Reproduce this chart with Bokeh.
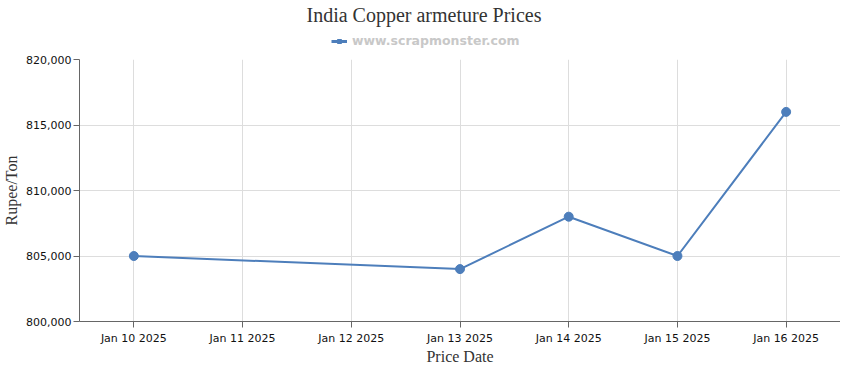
from datetime import datetime
import numpy as np
from bokeh.plotting import figure
from bokeh.layouts import column
from bokeh.models import (ColumnDataSource, FixedTicker, DatetimeTickFormatter,
                          NumeralTickFormatter, Legend, LegendItem, Range1d)
from bokeh.embed import file_html
from bokeh.resources import INLINE

# ---- data ----
dates = ["2025-01-10", "2025-01-13", "2025-01-14", "2025-01-15", "2025-01-16"]
prices = [805000, 804000, 808000, 805000, 816000]
tick_dates = ["2025-01-10", "2025-01-11", "2025-01-12", "2025-01-13",
              "2025-01-14", "2025-01-15", "2025-01-16"]
y_ticks = [800000, 805000, 810000, 815000, 820000]
title_text = "India Copper armeture Prices"
series_name = "www.scrapmonster.com"
x_label = "Price Date"
y_label = "Rupee/Ton"

def ms(s):
    return datetime.strptime(s, "%Y-%m-%d").timestamp() * 1000.0

xs = [datetime.strptime(d, "%Y-%m-%d") for d in dates]
src = ColumnDataSource(dict(x=xs, y=prices))

half_day = 12 * 3600 * 1000.0
x_start = ms(tick_dates[0]) - half_day
x_end = ms(tick_dates[-1]) + half_day

LINE = "#4d7ebb"
TOTAL_W = 840

# ---- header: title + legend ----
head = figure(width=TOTAL_W, height=50, output_backend="svg",
              toolbar_location=None, x_range=Range1d(0, 1), y_range=Range1d(0, 1),
              x_axis_location=None, y_axis_location=None,
              min_border=0)
head.grid.visible = False
head.outline_line_color = None
head.title.text = title_text
head.title.align = "left"
head.title.offset = 227
head.title.standoff = 3
head.title.text_font = "Liberation Serif"
head.title.text_font_size = "20px"
head.title.text_font_style = "normal"
head.title.text_color = "#333333"

leg_line = head.line([np.nan, np.nan], [np.nan, np.nan], line_color=LINE, line_width=3)
leg_sq = head.scatter([np.nan], [np.nan], marker="square", size=7,
                      fill_color=LINE, line_color=LINE)
legend = Legend(items=[LegendItem(label=series_name, renderers=[leg_line, leg_sq])],
                orientation="horizontal", location=(252, 2),
                label_text_font="DejaVu Sans", label_text_font_style="bold",
                label_text_font_size="12.5px", label_text_color="#c8c8c8",
                border_line_color=None, background_fill_alpha=0,
                glyph_width=16, glyph_height=10, label_standoff=5,
                padding=0, margin=0, spacing=0, label_height=12)
head.add_layout(legend)

# ---- main chart ----
p = figure(width=TOTAL_W, frame_height=262, x_axis_type="datetime",
           output_backend="svg", toolbar_location=None,
           x_range=Range1d(x_start, x_end),
           y_range=Range1d(y_ticks[0], y_ticks[-1]),
           min_border_left=4, min_border_right=0, min_border_top=9,
           min_border_bottom=4)

p.line("x", "y", source=src, line_color=LINE, line_width=2)
p.scatter("x", "y", source=src, size=9, fill_color=LINE, line_color=LINE)

p.xaxis.ticker = FixedTicker(ticks=[ms(t) for t in tick_dates])
p.xaxis.formatter = DatetimeTickFormatter(days="%b %d %Y", months="%b %d %Y",
                                          hours="%b %d %Y")
p.yaxis.ticker = FixedTicker(ticks=y_ticks)
p.yaxis.formatter = NumeralTickFormatter(format="0,0")

for ax in (p.xaxis[0], p.yaxis[0]):
    ax.axis_line_color = "#666666"
    ax.major_tick_line_color = "#666666"
    ax.major_tick_out = 6
    ax.major_tick_in = 0
    ax.minor_tick_line_color = None
    ax.major_label_text_font = "DejaVu Sans"
    ax.major_label_text_font_size = "11px"
    ax.major_label_text_color = "#111111"
    ax.axis_label_text_font = "Liberation Serif"
    ax.axis_label_text_font_size = "16px"
    ax.axis_label_text_font_style = "normal"
    ax.axis_label_text_color = "#333333"

p.xaxis.axis_label = x_label
p.yaxis.axis_label = y_label
p.xaxis.major_label_standoff = 4
p.xaxis.axis_label_standoff = 0
p.yaxis.major_label_standoff = 2
p.yaxis.axis_label_standoff = 3

p.xgrid.ticker = p.xaxis.ticker
p.ygrid.ticker = p.yaxis.ticker
p.grid.grid_line_color = "#dddddd"
p.outline_line_color = None
p.background_fill_color = "white"
p.border_fill_color = "white"

layout = column(head, p, spacing=0)
open("out.html", "w").write(file_html(layout, INLINE))
